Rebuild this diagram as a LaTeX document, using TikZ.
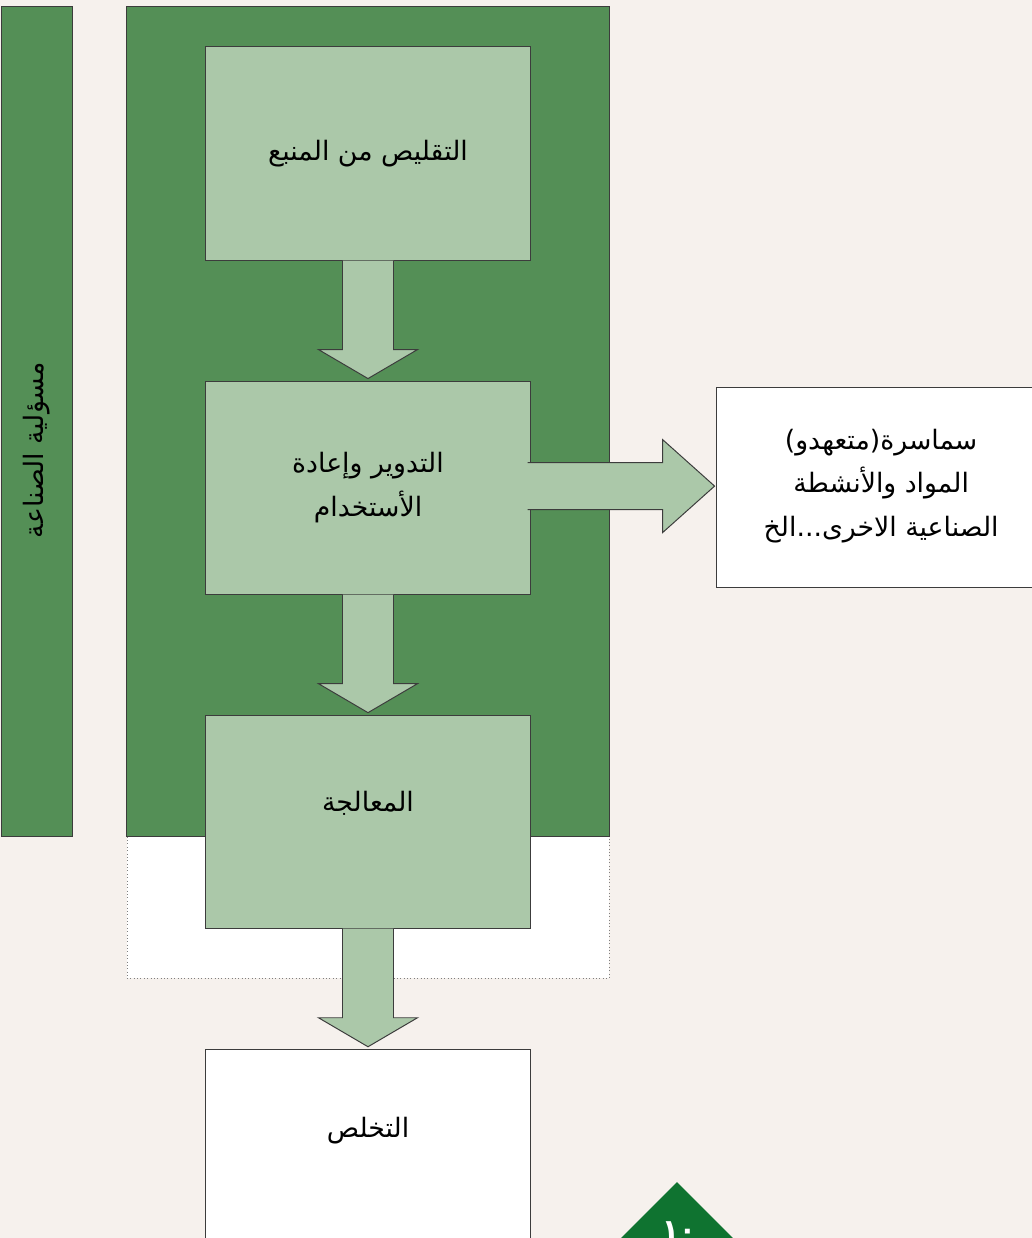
\documentclass[tikz,border=0pt]{standalone}
\usepackage{fontspec}
\newfontfamily\arabicfont[Script=Arabic]{DejaVu Sans}
\TeXXeTstate=1
\usetikzlibrary{calc, positioning}
\definecolor{paper}{RGB}{246,241,237}
\definecolor{darkgreen}{RGB}{84,143,86}
\definecolor{lightgreen}{RGB}{171,200,169}
\definecolor{edge}{RGB}{60,60,60}
\definecolor{pagegreen}{RGB}{15,115,48}
\newcommand{\ar}[1]{{\arabicfont\beginR #1\endR}}

\begin{document}
\begin{tikzpicture}[x=0.025cm, y=-0.025cm, node distance=8.35cm, auto]
    \tikzstyle{panel} = [rectangle, draw=edge, line width=0.7pt, fill=darkgreen, inner sep=0pt]
    \tikzstyle{stage} = [rectangle, draw=edge, line width=0.7pt, fill=lightgreen, minimum width=8.1cm, minimum height=5.325cm, inner sep=0pt, align=center, font=\fontsize{19}{31}\selectfont]
    \tikzstyle{outside} = [stage, fill=white]
    \tikzstyle{blockarrow} = [draw=edge, line width=0.7pt, fill=lightgreen]

    \useasboundingbox (0,0) rectangle (1032,1238);
    \clip (0,0) rectangle (1032,1238);
    \fill[paper] (0,0) rectangle (1032,1238);

    \node [panel, minimum width=1.75cm, minimum height=20.725cm] (indbar) at (37,421.5) {};
    \node [rotate=90, font=\fontsize{19}{22}\selectfont] (indlabel) at (37,450) {\ar{مسؤلية الصناعة}};

    \node [rectangle, draw=gray, dotted, fill=white, minimum width=12.05cm, minimum height=3.55cm] (spill) at (368,907) {};
    \node [panel, minimum width=12.05cm, minimum height=20.725cm] (frame) at (368,421.5) {};

    \node [stage] (source) at (368,153.5) {\ar{التقليص من المنبع}};
    \node [stage, below of=source] (recycle) {\ar{التدوير وإعادة}\\\ar{الأستخدام}};
    \node [stage, below of=recycle, text depth=1cm] (treat) {\ar{المعالجة}};
    \node [outside, below of=treat, text depth=1.4cm] (dispose) {\ar{التخلص}};
    \node [outside, right of=recycle, node distance=12.825cm, minimum width=8.25cm, minimum height=5cm, text depth=0.25cm] (broker) {\ar{سماسرة(متعهدو)}\\\ar{المواد  والأنشطة}\\\ar{الصناعية الاخرى...الخ}};

    \foreach \a/\b in {source/recycle, recycle/treat, treat/dispose}
        \path [blockarrow] ($(\a.south)+(-25.5,0)$) -- ($(\b.north)+(-25.5,-31)$) -- ($(\b.north)+(-49.5,-31)$) -- ($(\b.north)+(0,-2)$) -- ($(\b.north)+(49.5,-31)$) -- ($(\b.north)+(25.5,-31)$) -- ($(\a.south)+(25.5,0)$);

    \path [blockarrow] ($(recycle.east)+(-3,-25)$) -- ($(broker.west |- recycle.east)+(-53,-25)$) -- ($(broker.west |- recycle.east)+(-53,-48)$) -- ($(broker.west |- recycle.east)+(-1,-1.5)$) -- ($(broker.west |- recycle.east)+(-53,45)$) -- ($(broker.west |- recycle.east)+(-53,22)$) -- ($(recycle.east)+(-3,22)$);

    \fill [pagegreen] (677,1182) -- (770,1275) -- (584,1275) -- cycle;
    \node [text=white, font=\arabicfont\bfseries\fontsize{20}{24}\selectfont] (pagenum) at (679,1231) {١٠};
\end{tikzpicture}
\end{document}
